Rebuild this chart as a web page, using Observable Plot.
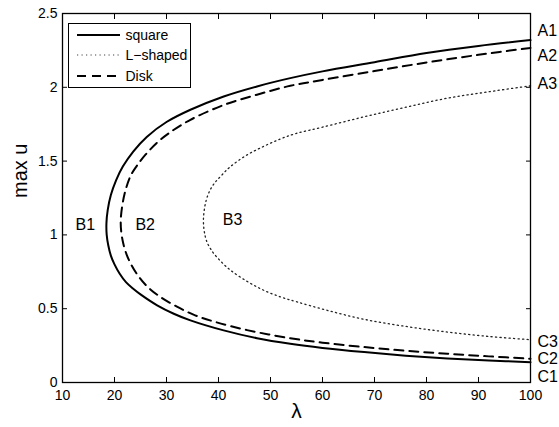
<!DOCTYPE html>
<html>
<head>
<meta charset="utf-8">
<script src="https://cdn.jsdelivr.net/npm/d3@7"></script>
<script src="https://cdn.jsdelivr.net/npm/@observablehq/plot@0.6"></script>
<style>
  body { margin: 0; background: white; }
  #wrap { position: relative; width: 559px; height: 427px; font-family: "Liberation Sans", Arial, sans-serif; }
  #legend { position: absolute; left: 67.5px; top: 22.5px; width: 123px; height: 65px; border: 1px solid black; background: white; box-sizing: border-box; }
  #legend .row { position: absolute; left: 0; height: 20px; display: flex; align-items: center; font-size: 14px; }
  #legend svg { margin-left: 8px; margin-right: 6px; }
</style>
</head>
<body>
<div id="wrap"></div>
<script>
// Square domain (path: upper branch from λ=100 to the turning point, then lower branch back to λ=100)
const squareLambda = [100, 90, 80, 70, 60, 53.8, 47.4, 41, 34.6, 30, 26.2, 23.6, 21.6, 20.3, 19.3, 18.7, 18.45, 18.5, 18.8, 19.3, 20, 21, 22.2, 23.6, 25, 28.2, 31.4, 34.6, 41, 47.4, 53.8, 60, 68, 76, 84, 92, 100];
const squareU      = [2.32, 2.28, 2.232, 2.17, 2.108, 2.062, 2.006, 1.938, 1.848, 1.765, 1.664, 1.565, 1.463, 1.37, 1.27, 1.17, 1.08, 1.0, 0.93, 0.86, 0.80, 0.737, 0.68, 0.635, 0.597, 0.523, 0.466, 0.421, 0.353, 0.30, 0.262, 0.234, 0.206, 0.182, 0.163, 0.149, 0.138];
// Disk domain
const diskLambda = [100, 90, 80, 70, 60, 53.8, 47.4, 41, 34.6, 30.5, 28.2, 26, 24.2, 23.1, 22.1, 21.5, 21.2, 21.3, 21.7, 22.3, 23.1, 24.5, 26.3, 28.8, 32.1, 35.5, 39.4, 45.5, 53.8, 60, 68, 76, 84, 92, 100];
const diskU      = [2.267, 2.22, 2.168, 2.11, 2.05, 2.01, 1.95, 1.88, 1.78, 1.69, 1.625, 1.545, 1.463, 1.40, 1.30, 1.20, 1.10, 1.02, 0.94, 0.87, 0.806, 0.725, 0.65, 0.58, 0.512, 0.455, 0.41, 0.355, 0.30, 0.27, 0.24, 0.215, 0.195, 0.177, 0.161];
// L-shaped domain
const lLambda = [100, 92, 84, 76, 68, 60, 55, 51.9, 48.7, 45.5, 42.3, 40.5, 39.1, 38.2, 37.6, 37.25, 37.1, 37.2, 37.45, 37.8, 38.4, 39.1, 40.6, 42.3, 45.5, 48.7, 51.9, 55.1, 60.9, 68, 76, 84, 92, 100];
const lU      = [2.01, 1.97, 1.926, 1.865, 1.80, 1.73, 1.688, 1.65, 1.60, 1.542, 1.463, 1.40, 1.345, 1.29, 1.23, 1.165, 1.10, 1.04, 0.99, 0.95, 0.91, 0.874, 0.815, 0.761, 0.685, 0.625, 0.58, 0.546, 0.489, 0.428, 0.38, 0.342, 0.312, 0.29];

// Branch annotations
const rightLabels = ["A1", "A2", "A3", "C3", "C2", "C1"];
const rightLabelU = [2.385, 2.215, 2.02, 0.274, 0.163, 0.036];
const innerLabels = ["B1", "B2", "B3"];
const innerLabelLambda = [14.4, 25.9, 42.7];
const innerLabelU = [1.067, 1.067, 1.10];

const xTicks = [10, 20, 30, 40, 50, 60, 70, 80, 90, 100];
const yTicks = [0, 0.5, 1, 1.5, 2, 2.5];
const yTickLabels = ["0", "0.5", "1", "1.5", "2", "2.5"];

const seriesNames = ["square", "L\u2212shaped", "Disk"];

const toPts = (xs, ys) => xs.map((x, i) => ({x, y: ys[i]}));
const square = toPts(squareLambda, squareU);
const disk = toPts(diskLambda, diskU);
const lshape = toPts(lLambda, lU);
const rightLab = rightLabels.map((t, i) => ({t, x: 100, y: rightLabelU[i]}));
const innerLab = innerLabels.map((t, i) => ({t, x: innerLabelLambda[i], y: innerLabelU[i]}));

const chart = Plot.plot({
  width: 559,
  height: 427,
  marginLeft: 62,
  marginRight: 29,
  marginTop: 13,
  marginBottom: 45,
  style: {fontFamily: "'Liberation Sans', Arial, sans-serif", fontSize: "14px", color: "black", background: "white", overflow: "visible"},
  x: {domain: [10, 100]},
  y: {domain: [0, 2.5]},
  marks: [
    Plot.line(lshape, {x: "x", y: "y", stroke: "#222", strokeWidth: 1.3, strokeDasharray: "1.2,3.3", curve: "catmull-rom"}),
    Plot.line(disk, {x: "x", y: "y", stroke: "black", strokeWidth: 2, strokeDasharray: "9,6", curve: "catmull-rom"}),
    Plot.line(square, {x: "x", y: "y", stroke: "black", strokeWidth: 2, curve: "catmull-rom"}),
    Plot.axisX({ticks: xTicks, tickSize: -5, tickPadding: 13, label: null, fontSize: 14}),
    Plot.axisX({anchor: "top", ticks: xTicks, tickSize: -5, tickFormat: () => "", label: null}),
    Plot.axisY({ticks: yTicks, tickSize: -5, tickPadding: 10, tickFormat: (d) => yTickLabels[yTicks.indexOf(d)], label: null, fontSize: 14}),
    Plot.axisY({anchor: "right", ticks: yTicks, tickSize: -5, tickFormat: () => "", label: null}),
    Plot.frame({stroke: "black", strokeWidth: 1.3}),
    Plot.text(rightLab, {x: "x", y: "y", text: "t", textAnchor: "start", dx: 7, fontSize: 16}),
    Plot.text(innerLab, {x: "x", y: "y", text: "t", fontSize: 16}),
    Plot.text(["max u"], {frameAnchor: "left", rotate: -90, dx: -42, fontSize: 20}),
    Plot.text(["\u03bb"], {frameAnchor: "bottom", dy: 35, fontSize: 21})
  ]
});

const wrap = document.getElementById("wrap");
wrap.appendChild(chart);

// Legend
const legend = document.createElement("div");
legend.id = "legend";
const dashes = [null, "1.2,3.3", "9,6"];
const strokes = ["black", "#444", "black"];
const widths = [2, 1.2, 2];
seriesNames.forEach((name, i) => {
  const row = document.createElement("div");
  row.className = "row";
  row.style.top = (1.5 + i * 20.3) + "px";
  row.innerHTML = `<svg width="43" height="6"><line x1="0" y1="3" x2="43" y2="3" stroke="${strokes[i]}" stroke-width="${widths[i]}" ${dashes[i] ? `stroke-dasharray="${dashes[i]}"` : ""}/></svg><span>${name}</span>`;
  legend.appendChild(row);
});
wrap.appendChild(legend);
</script>
</body>
</html>
